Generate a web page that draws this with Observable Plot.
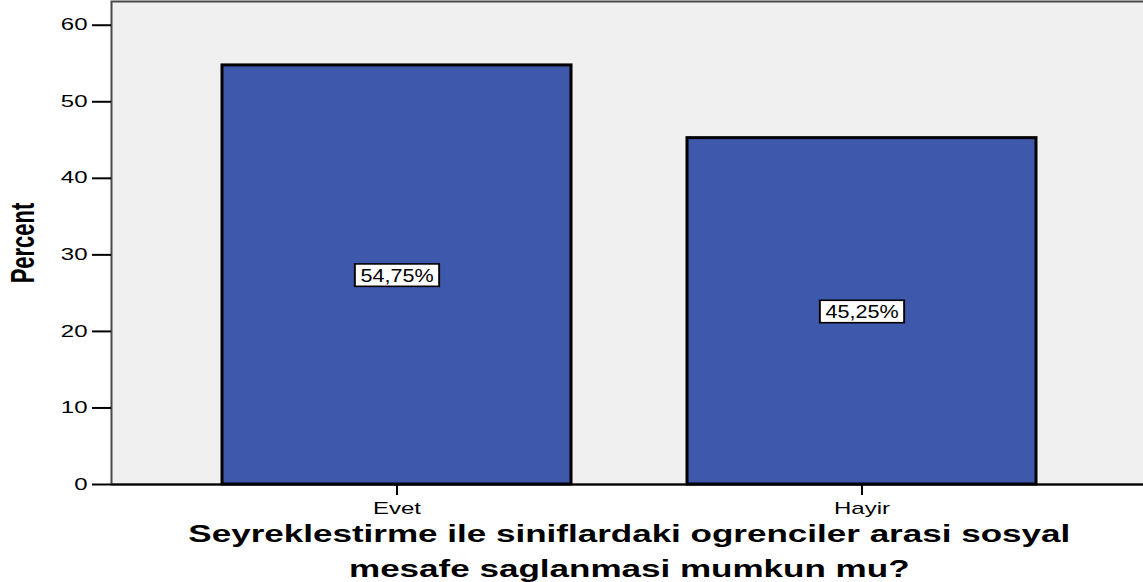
<!DOCTYPE html>
<html><head><meta charset="utf-8">
<script src="https://cdn.jsdelivr.net/npm/d3@7"></script>
<script src="https://cdn.jsdelivr.net/npm/@observablehq/plot@0.6"></script>
<style>html,body{margin:0;padding:0;background:#fff;overflow:hidden}</style>
</head><body><div id="chart"></div>
<script>
const categories = ["Evet", "Hayir"];
const percents = [54.75, 45.25];
const barLabels = ["54,75%", "45,25%"];
const yTicks = [0, 10, 20, 30, 40, 50, 60];
const yMax = 63.1;
const xTitleLines = ["Seyreklestirme ile siniflardaki ogrenciler arasi sosyal", "mesafe saglanmasi mumkun mu?"];
const yTitle = "Percent";

const data = categories.map((c, i) => ({cat: c, pct: percents[i], label: barLabels[i]}));
const FONT = "'Liberation Sans', Arial, Helvetica, sans-serif";

const svg = Plot.plot({
  width: 1143, height: 582,
  marginLeft: 111, marginRight: -3.5, marginTop: 1, marginBottom: 98,
  style: {fontFamily: FONT, background: "#fff", overflow: "hidden", color: "#000"},
  x: {domain: categories, paddingInner: 0.25, paddingOuter: 0.237},
  y: {domain: [0, yMax]},
  marks: [
    Plot.frame({fill: "#f0f0f0", stroke: "#484848", strokeWidth: 2}),
    Plot.barY(data, {x: "cat", y: "pct", fill: "#3e58ac", stroke: "#000", strokeWidth: 3}),
    Plot.ruleY([0], {stroke: "#000", strokeWidth: 2}),
    Plot.axisY(yTicks, {tickSize: 19, tickPadding: 5, stroke: "#000", strokeWidth: 2, fontSize: 16, label: null}),
    Plot.axisX(categories, {tickSize: 11, tickPadding: 7, stroke: "#000", strokeWidth: 2, fontSize: 16, label: null}),
    Plot.text(data, {x: "cat", y: d => d.pct / 2, text: "label", fontSize: 18, dy: 1, fill: "#000"}),
    Plot.text([xTitleLines.join("\n")], {frameAnchor: "bottom", textAnchor: "middle", dy: 32.8, lineAnchor: "top", lineHeight: 1.46, fontSize: 24, fontWeight: "bold", fill: "#000"}),
    Plot.text([yTitle], {frameAnchor: "left", textAnchor: "middle", dx: -77.7, rotate: -90, lineAnchor: "bottom", fontSize: 22, fontWeight: "bold", fill: "#000"})
  ]
});

document.getElementById("chart").appendChild(svg);

// The reference image is horizontally stretched: widen glyphs around each text's anchor.
const ns = "http://www.w3.org/2000/svg";
for (const t of Array.from(svg.querySelectorAll("text"))) {
  const content = t.textContent;
  let sx = 1.5, box = false;
  if (barLabels.includes(content)) { sx = 1.2; box = true; }
  else if (content.startsWith(xTitleLines[0].slice(0, 12))) sx = 1.46;
  const tl = t.transform.baseVal.consolidate();
  const mat = tl ? tl.matrix : svg.createSVGMatrix();
  const x0 = t.x.baseVal.numberOfItems ? t.x.baseVal.getItem(0).value : 0;
  const y0 = t.y.baseVal.numberOfItems ? t.y.baseVal.getItem(0).value : 0;
  const ax = mat.a * x0 + mat.c * y0 + mat.e;
  const ay = mat.b * x0 + mat.d * y0 + mat.f;
  const g = document.createElementNS(ns, "g");
  g.setAttribute("transform", `translate(${ax},${ay}) scale(${sx},1) translate(${-ax},${-ay})`);
  t.parentNode.insertBefore(g, t);
  g.appendChild(t);
  if (box) {
    const bb = t.getBBox();
    const r = document.createElementNS(ns, "rect");
    r.setAttribute("x", bb.x - 4.6);
    r.setAttribute("y", bb.y - 1.5);
    r.setAttribute("width", bb.width + 9.2);
    r.setAttribute("height", bb.height + 2.5);
    r.setAttribute("fill", "#fff");
    r.setAttribute("stroke", "#000");
    r.setAttribute("stroke-width", 1.6);
    if (t.getAttribute("transform")) r.setAttribute("transform", t.getAttribute("transform"));
    g.insertBefore(r, t);
  }
}
</script>
</body></html>
